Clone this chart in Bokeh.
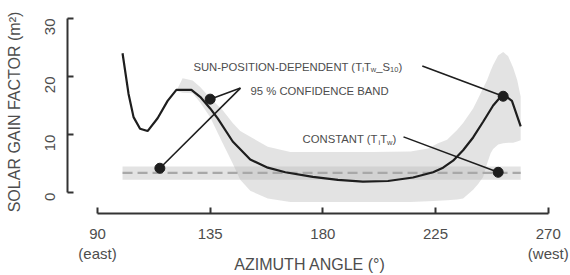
from bokeh.plotting import figure
from bokeh.models import Label, FixedTicker, Range1d
from bokeh.embed import file_html
from bokeh.resources import INLINE
import math

# ---- data ----
angle = [100, 102.4, 104.4, 107, 110, 114, 118, 121.5, 127.5, 131, 135, 138,
         144, 151, 158, 165, 176, 186, 196, 206, 216, 224, 228, 232, 236, 240,
         244, 248, 251, 253, 255.5, 259]
gain = [24, 17, 13, 11, 10.6, 12.8, 15.8, 17.7, 17.7, 16.5, 14.5, 12.8,
        8.8, 5.7, 4.3, 3.5, 2.7, 2.2, 1.9, 2.0, 2.6, 3.5, 4.3, 5.5, 7.3, 9.5,
        12.2, 15, 16.5, 16.6, 15.8, 11.4]

band_angle = [121.5, 124, 128, 131, 135, 140, 144, 147, 151, 158, 167, 180,
              200, 215, 222, 226, 229.6, 233.6, 236, 240, 242, 244, 245.6, 247,
              248, 250, 252, 254, 256, 257.6, 259]
band_upper = [17.5, 19.7, 19.3, 18.2, 16.3, 14.2, 12.0, 10.6, 9.6, 7.9, 7.0, 7.0,
              7.0, 7.1, 7.6, 8.5, 9.1, 10.8, 12.0, 14.5, 16.2, 18.0, 19.4, 21.0,
              22.0, 23.6, 24.2, 23.5, 21.5, 19.4, 16.5]
band_lower = [17.5, 17.2, 17.1, 15.5, 13.0, 8.5, 5.0, 2.2, 0.3, -1.0, -1.6, -1.6,
              -1.6, -1.6, -1.5, -1.4, -1.3, -1.2, -1.0, 0.5, 1.5, 2.7, 5.0, 6.8,
              7.5, 8.3, 8.5, 8.6, 8.6, 8.8, 9.0]

const_angle = [100, 259]
const_value = [3.4, 3.4]
const_lower = [2.2, 2.2]
const_upper = [4.5, 4.5]

marker_angle = [114.9, 135, 252, 250]
marker_value = [4.2, 16.1, 16.6, 3.5]

x_ticks = [90, 135, 180, 225, 270]
y_ticks = [0, 10, 20, 30]
x_tick_labels = {90: "90\n(east)", 135: "135", 180: "180", 225: "225", 270: "270\n(west)"}

# leader lines: (start angle, start value) -> marker index
leaders = [((219.7, 21.8), 2), ((147.1, 18.0), 1), ((147.1, 18.0), 0), ((212.2, 9.6), 3)]

FONT = "Liberation Sans"
TXT = "#4d4d4d"

p = figure(width=570, height=275, output_backend="svg", toolbar_location=None,
           x_range=Range1d(78.02, 271.7), y_range=Range1d(-3.6, 31.37),
           min_border_left=67, min_border_right=18, min_border_top=10,
           min_border_bottom=61)
p.outline_line_color = None
p.xgrid.visible = False
p.ygrid.visible = False
p.background_fill_color = "white"

# bands
p.varea(x=band_angle, y1=band_lower, y2=band_upper, fill_color="#b8b8b8", fill_alpha=0.4)
p.varea(x=const_angle, y1=const_lower, y2=const_upper, fill_color="#b8b8b8", fill_alpha=0.4)
p.line(const_angle, const_value, line_color="#a8a8a8", line_width=2.2, line_dash="10 5")
p.line(angle, gain, line_color="#1e1e1e", line_width=2.2)

for (sx, sy), mi in leaders:
    p.line([sx, marker_angle[mi]], [sy, marker_value[mi]], line_color="#1e1e1e", line_width=1.6)
p.scatter(marker_angle, marker_value, size=10, color="#1e1e1e")

# axes
for ax in (p.xaxis[0], p.yaxis[0]):
    ax.axis_line_width = 2
    ax.axis_line_color = "#333333"
    ax.major_tick_line_color = "#333333"
    ax.major_tick_line_width = 2
    ax.major_tick_in = 6
    ax.major_tick_out = 0
    ax.minor_tick_line_color = None
    ax.major_label_text_font = FONT
    ax.major_label_text_font_size = "15px"
    ax.major_label_text_color = TXT
    ax.axis_label_text_font = FONT
    ax.axis_label_text_font_size = "16px"
    ax.axis_label_text_font_style = "normal"
    ax.axis_label_text_color = TXT

p.xaxis.bounds = (90, 270)
p.yaxis.bounds = (0, 30)
p.xaxis.ticker = FixedTicker(ticks=x_ticks)
p.yaxis.ticker = FixedTicker(ticks=y_ticks)
p.xaxis.major_label_overrides = x_tick_labels
p.xaxis.major_label_standoff = 11
p.yaxis.major_label_standoff = 17
p.yaxis.major_label_orientation = math.pi / 2
p.xaxis.axis_label = "AZIMUTH ANGLE (°)"
p.yaxis.axis_label = "SOLAR GAIN FACTOR (m²)"
p.xaxis.axis_label_standoff = -9
p.yaxis.axis_label_standoff = 15

# annotation texts with subscripts
W = {" ": 278, "%": 889, "(": 333, ")": 333, "-": 333, "_": 556, "A": 667, "B": 667,
     "C": 722, "D": 722, "E": 667, "F": 611, "G": 778, "H": 722, "I": 278, "M": 833,
     "N": 722, "O": 778, "P": 667, "R": 722, "S": 667, "T": 611, "U": 722, "i": 222,
     "w": 722}
for d in "0123456789":
    W[d] = 556

BIG, SMALL = 11.3, 7.5


def add_text(x, y, pieces):
    off = 0.0
    for txt, sub in pieces:
        size = SMALL if sub else BIG
        p.add_layout(Label(x=x, y=y, x_offset=off, y_offset=-3 if sub else 0, text=txt,
                           text_font=FONT, text_font_size=f"{size}px", text_color=TXT,
                           text_baseline="alphabetic", text_align="left"))
        off += sum(W.get(c, 600) for c in txt) * size / 1000.0


add_text(128.3, 21.65, [("SUN-POSITION-DEPENDENT (T", False), ("i", True), ("T", False),
                        ("w", True), ("_S", False), ("10", True), (")", False)])
add_text(151.1, 17.54, [("95 % CONFIDENCE BAND", False)])
add_text(171.9, 9.2, [("CONSTANT (T", False), ("i", True), ("T", False), ("w", True), (")", False)])

open("out.html", "w").write(file_html(p, INLINE))
